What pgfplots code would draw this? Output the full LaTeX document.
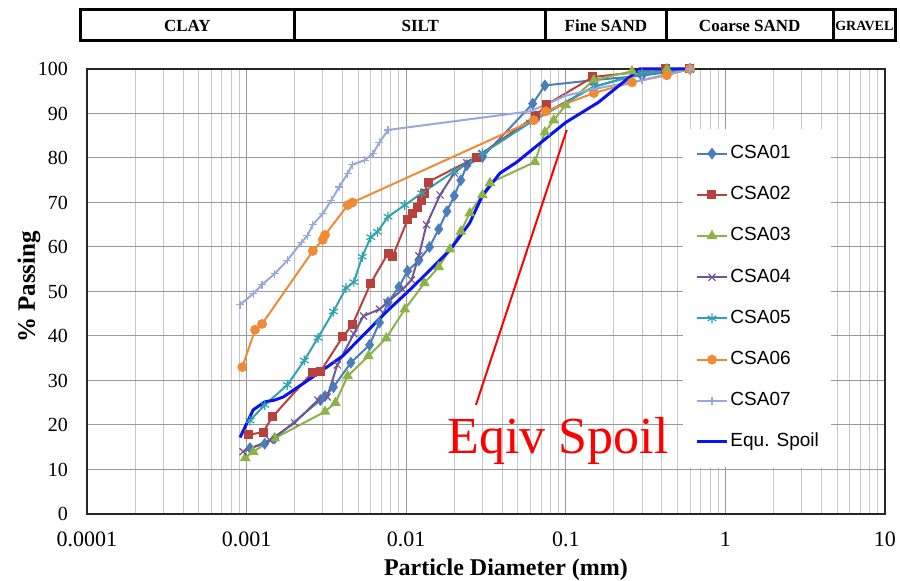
\documentclass[border=0pt]{standalone}
\usepackage{pgfplots}
\pgfplotsset{compat=1.18}
\usepackage{fontspec}
\setmainfont{Liberation Serif}
\newfontfamily\legendfont{Liberation Sans}
\usetikzlibrary{calc}
\definecolor{c1}{HTML}{4A7EBB}
\definecolor{c2}{HTML}{B8403D}
\definecolor{c3}{HTML}{8DB348}
\definecolor{c4}{HTML}{6F5697}
\definecolor{c5}{HTML}{2FA3B0}
\definecolor{c6}{HTML}{F08A35}
\definecolor{c7}{HTML}{98A8D8}
\definecolor{c8}{HTML}{0A14F0}
\begin{document}
\begin{tikzpicture}
\useasboundingbox (-43.5pt,-33.5pt) rectangle (406.5pt,257pt);
\begin{axis}[
 at={(0,0)}, anchor=south west,
 scale only axis, width=399pt, height=222.5pt,
 xmode=log, xmin=1e-4, xmax=10, ymin=0, ymax=100,
 xtick={1e-4,1e-3,1e-2,1e-1,1,10},
 xticklabels={0.0001,0.001,0.01,0.1,1,10},
 minor xtick={2e-4,3e-4,4e-4,5e-4,6e-4,7e-4,8e-4,9e-4,
   2e-3,3e-3,4e-3,5e-3,6e-3,7e-3,8e-3,9e-3,
   0.02,0.03,0.04,0.05,0.06,0.07,0.08,0.09,
   0.2,0.3,0.4,0.5,0.6,0.7,0.8,0.9,
   2,3,4,5,6,7,8,9},
 ytick={0,10,...,100},
 /pgf/number format/assume math mode=true,
 xmajorgrids, xminorgrids, ymajorgrids,
 major grid style={line width=0.5pt, black!40},
 minor grid style={line width=0.4pt, black!22},
 major tick length=0pt, minor tick length=0pt,
 axis line style={line width=1pt, black!85},
 x tick label style={font=\fontsize{11}{12}\selectfont, yshift=-5.5pt},
 y tick label style={font=\fontsize{10}{12}\selectfont, xshift=-6pt},
 xlabel={Particle Diameter (mm)}, ylabel={\% Passing},
 every axis x label/.style={at={(axis description cs:0.525,-0.1245)}, anchor=center, font=\bfseries\fontsize{12}{14}\selectfont},
 every axis y label/.style={at={(axis description cs:-0.0727,0.51)}, rotate=90, anchor=center, font=\bfseries\fontsize{12.5}{14}\selectfont},
 clip=false,
 legend style={at={(axis description cs:0.747,0.867)}, anchor=north west, draw=none, fill=white,
   inner xsep=6pt, inner ysep=8pt, font=\legendfont\fontsize{9.5}{11}\selectfont,
   row sep=11.6pt, column sep=1pt, nodes={inner sep=0pt, text height=7pt, text depth=2pt}},
 legend cell align=left,
 legend image code/.code={\draw[mark repeat=2,mark phase=2,#1] plot coordinates {(0pt,0pt) (7.5pt,0pt) (15pt,0pt)};},
 every axis plot/.append style={line width=1pt},
]
% CSA01
\addplot[c1, mark=diamond*, mark size=2.6pt, mark options={solid, fill=c1, line width=0.5pt}] coordinates {
(0.00105,14.8)(0.0013,15.8)(0.0015,17)(0.0029,25.6)(0.0031,26.5)(0.0035,28.5)(0.0045,34)(0.0059,38)(0.0068,43)(0.0077,47.6)(0.009,51)(0.0102,54.6)(0.012,57)(0.014,60)(0.016,64)(0.018,68)(0.02,71.5)(0.022,75)(0.024,78.4)(0.03,80.2)(0.062,92.2)(0.074,96.3)(0.15,97.5)(0.3,98.5)(0.6,100)};
\addlegendentry{CSA01}
% CSA02
\addplot[c2, mark=square*, mark size=2pt, mark options={solid, fill=c2, line width=0.5pt}] coordinates {
(0.00103,17.8)(0.00127,18.4)(0.00145,21.8)(0.0026,31.9)(0.0029,32)(0.004,39.8)(0.0046,42.5)(0.006,51.9)(0.0077,58.6)(0.0082,57.8)(0.0102,66.1)(0.011,67.6)(0.0117,68.8)(0.0125,70.5)(0.013,72.1)(0.0137,74.6)(0.0276,80.2)(0.065,89.5)(0.076,92)(0.148,98.2)(0.42,100)(0.6,100)};
\addlegendentry{CSA02}
% CSA03
\addplot[c3, mark=triangle*, mark size=2.6pt, mark options={solid, fill=c3, line width=0.5pt}] coordinates {
(0.00098,12.6)(0.0011,14)(0.0015,17)(0.0031,23)(0.0036,25)(0.0043,31)(0.0058,35.5)(0.0075,39.5)(0.0098,46)(0.013,51.9)(0.016,55.5)(0.0188,59.5)(0.022,63.5)(0.025,67.6)(0.03,71.7)(0.0335,74.4)(0.064,79.1)(0.074,85.8)(0.084,88.5)(0.1,91.9)(0.15,97.5)(0.26,99.5)(0.43,100)(0.6,100)};
\addlegendentry{CSA03}
% CSA04
\addplot[c4, mark=x, mark size=2.5pt, mark options={solid, line width=0.6pt}] coordinates {
(0.00095,14)(0.0014,16.6)(0.002,20.5)(0.0028,25.6)(0.0032,26.3)(0.0037,33.5)(0.0047,40.5)(0.0054,44.5)(0.0068,46)(0.0076,47.5)(0.0095,50.5)(0.0108,52.6)(0.012,58)(0.0134,65)(0.0163,71.7)(0.02,76.6)(0.024,78.9)(0.03,81)(0.065,89)(0.15,96)(0.3,99)(0.6,100)};
\addlegendentry{CSA04}
% CSA05
\addplot[c5, mark=asterisk, mark size=2.5pt, mark options={solid, line width=0.6pt}] coordinates {
(0.00105,21)(0.0013,24.5)(0.0018,29)(0.0023,34.5)(0.0028,39.6)(0.0035,45.5)(0.0042,50.8)(0.0047,52.1)(0.0053,57.8)(0.006,62.2)(0.0066,63.4)(0.0077,66.8)(0.0098,69.4)(0.0125,72.1)(0.02,77)(0.03,81)(0.06,88)(0.15,96)(0.3,99)(0.6,100)};
\addlegendentry{CSA05}
% CSA06
\addplot[c6, mark=*, mark size=2.2pt, mark options={solid, fill=c6, line width=0.5pt}] coordinates {
(0.00094,33)(0.00113,41.4)(0.00125,42.7)(0.0026,59.1)(0.003,61.6)(0.0031,62.7)(0.0043,69.4)(0.0046,70)(0.063,88.5)(0.075,90.5)(0.15,94.6)(0.26,97)(0.43,98.6)(0.6,100)};
\addlegendentry{CSA06}
% CSA07
\addplot[c7, mark=+, mark size=2pt, mark options={solid, line width=0.6pt}] coordinates {
(0.00091,47)(0.0011,49.5)(0.00125,51.5)(0.0015,54)(0.0018,57)(0.0022,61)(0.0024,62.5)(0.0026,65)(0.003,67.5)(0.0034,70.5)(0.0038,73.5)(0.0043,76.5)(0.0046,78.5)(0.0055,79.5)(0.0062,81)(0.0068,83.5)(0.0077,86.3)(0.06,90.5)(0.1,94)(0.15,95.5)(0.3,97.5)(0.6,100)};
\addlegendentry{CSA07}
% Equ. Spoil
\addplot[c8, line width=1.5pt, no marks] coordinates {
(0.00091,17.2)(0.0011,23.4)(0.0013,25.2)(0.0015,25.6)(0.0017,26.3)(0.002,28)(0.0027,31.2)(0.004,35.5)(0.005,39)(0.0075,45.4)(0.011,51)(0.0188,59.3)(0.025,65.4)(0.03,71.5)(0.0387,76.6)(0.049,79)(0.1,88)(0.16,92.5)(0.29,100)(0.6,100)};
\addlegendentry{Equ. Spoil}
% annotation
\draw[red, line width=1pt] (axis cs:0.02735,24.5) -- (axis cs:0.1014,86.3);
\node[anchor=base west, text=red, inner sep=0pt, font=\fontsize{26}{30}\selectfont] at (axis cs:0.01804,13.7) {Eqiv Spoil};
% header table
\draw[line width=1.5pt, black] (axis cs:0.0000905,106.5) rectangle (axis cs:0.002,113.3);
\draw[line width=1.5pt, black] (axis cs:0.002,106.5) rectangle (axis cs:0.075,113.3);
\draw[line width=1.5pt, black] (axis cs:0.075,106.5) rectangle (axis cs:0.425,113.3);
\draw[line width=1.5pt, black] (axis cs:0.425,106.5) rectangle (axis cs:4.75,113.3);
\draw[line width=1.5pt, black] (axis cs:4.75,106.5) rectangle (axis cs:11.6,113.3);
\node[font=\bfseries\fontsize{8.5}{10}\selectfont, inner sep=0pt] at ($(axis cs:0.0000905,106.2)!0.5!(axis cs:0.002,113.3)$) {CLAY};
\node[font=\bfseries\fontsize{8.5}{10}\selectfont, inner sep=0pt] at ($(axis cs:0.002,106.2)!0.5!(axis cs:0.075,113.3)$) {SILT};
\node[font=\bfseries\fontsize{8.5}{10}\selectfont, inner sep=0pt] at ($(axis cs:0.075,106.2)!0.5!(axis cs:0.425,113.3)$) {Fine SAND};
\node[font=\bfseries\fontsize{8.5}{10}\selectfont, inner sep=0pt] at ($(axis cs:0.425,106.2)!0.5!(axis cs:4.75,113.3)$) {Coarse SAND};
\node[font=\bfseries\fontsize{7}{10}\selectfont, inner sep=0pt] at ($(axis cs:4.75,106.2)!0.5!(axis cs:11.6,113.3)$) {GRAVEL};
\end{axis}
\end{tikzpicture}
\end{document}
